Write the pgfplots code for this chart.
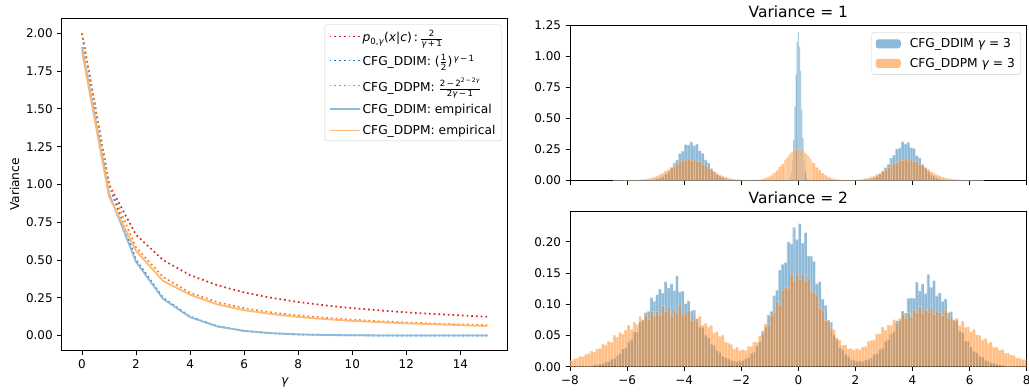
\documentclass[border=0pt]{standalone}
\usepackage{amsmath}
\usepackage{fontspec}
\setmainfont{DejaVu Sans}
\usepackage{pgfplots}
\pgfplotsset{compat=1.18}
\usepackage{pgfplotstable}
\definecolor{tblue}{HTML}{1F77B4}
\definecolor{torange}{HTML}{FF7F0E}
\definecolor{tred}{HTML}{D62728}
\definecolor{lblue}{HTML}{8FBBD9}
\definecolor{lorange}{HTML}{FFB878}
\newcommand{\si}[1]{\text{\itshape #1}}
\newcommand{\su}[1]{\text{#1}}
\newcommand{\up}[1]{\text{\raisebox{1bp}{#1}}}
\newcommand{\dn}[1]{\text{\raisebox{-1bp}{#1}}}

% Variance = 1 histogram (left bin edges; last row closes the last bin)
\pgfplotstableread{
x ddim ddpm
-6.5 0 0
-6.4 0 0
-6.3 0 0
-6.2 0 0
-6.1 0 .0004
-6.0 0 .0007
-5.9 0 .0012
-5.8 0 .0019
-5.7 0 .0031
-5.6 0 .0044
-5.5 0 .0070
-5.4 .0009 .0096
-5.3 .0018 .0145
-5.2 .0035 .0192
-5.1 .0066 .0275
-5.0 .0112 .0346
-4.9 .0199 .0473
-4.8 .0305 .0570
-4.7 .0490 .0741
-4.6 .0690 .0852
-4.5 .0960 .1057
-4.4 .1394 .1159
-4.3 .1619 .1371
-4.2 .2173 .1434
-4.1 .2349 .1618
-4.0 .2878 .1614
-3.9 .2845 .1737
-3.8 .3090 .1653
-3.7 .2786 .1696
-3.6 .2905 .1540
-3.5 .2398 .1508
-3.4 .2173 .1305
-3.3 .1636 .1218
-3.2 .1394 .1005
-3.1 .0960 .0896
-3.0 .0705 .0705
-2.9 .0466 .0599
-2.8 .0321 .0449
-2.7 .0190 .0364
-2.6 .0118 .0261
-2.5 .0063 .0202
-2.4 .0035 .0137
-2.3 .0018 .0101
-2.2 0 .0066
-2.1 0 .0046
-2.0 0 .0029
-1.9 0 .0019
-1.8 0 .0017
-1.7 0 .0011
-1.6 0 .0020
-1.5 0 .0038
-1.4 0 .0063
-1.3 0 .0113
-1.2 0 .0173
-1.1 0 .0283
-1.0 0 .0401
-0.9 0 .0604
-0.8 0 .0791
-0.7 0 .1101
-0.6 0 .1331
-0.50 0 .1600
-0.46 0 .1660
-0.42 .0003 .1850
-0.38 .002 .1890
-0.34 .007 .2080
-0.30 .025 .2100
-0.26 .065 .2270
-0.22 .166 .2260
-0.18 .322 .2420
-0.14 .592 .2390
-0.10 .851 .2510
-0.06 1.112 .2450
-0.02 1.19 .2530
0.02 1.075 .2470
0.06 .878 .2440
0.10 .566 .2460
0.14 .340 .2340
0.18 .155 .2350
0.22 .070 .2190
0.26 .023 .2170
0.30 .008 .2000
0.34 .002 .1950
0.38 .0003 .1790
0.42 0 .1720
0.46 0 .1550
0.5 0 .1390
0.6 0 .1050
0.7 0 .0825
0.8 0 .0578
0.9 0 .0419
1.0 0 .0270
1.1 0 .0182
1.2 0 .0107
1.3 0 .0067
1.4 0 .0036
1.5 0 .0021
1.6 0 .0010
1.7 0 .0018
1.8 0 .0020
1.9 0 .0031
2.0 0 .0044
2.1 0 .0070
2.2 .0019 .0096
2.3 .0034 .0145
2.4 .0067 .0191
2.5 .0112 .0276
2.6 .0200 .0345
2.7 .0303 .0474
2.8 .0494 .0567
2.9 .0726 .0745
3.0 .1030 .0848
3.1 .1275 .1062
3.2 .1789 .1152
3.3 .2026 .1378
3.4 .2520 .1427
3.5 .2604 .1626
3.6 .3109 .1605
3.7 .2940 .1746
3.8 .3050 .1644
3.9 .2631 .1705
4.0 .2569 .1532
4.1 .1985 .1515
4.2 .1806 .1298
4.3 .1288 .1224
4.4 .1030 .1000
4.5 .0726 .0900
4.6 .0466 .0701
4.7 .0321 .0602
4.8 .0188 .0447
4.9 .0118 .0366
5.0 .0063 .0260
5.1 .0036 .0203
5.2 .0017 .0137
5.3 .0009 .0102
5.4 0 .0066
5.5 0 .0046
5.6 0 .0029
5.7 0 .0020
5.8 0 .0012
5.9 0 .0007
6.0 0 .0004
6.1 0 0
6.2 0 0
6.3 0 0
6.4 0 0
6.5 0 0
}\varone

% Variance = 2 histogram
\pgfplotstableread{
x ddim ddpm
-8.0 .0001 .0103
-7.9 .0002 .0126
-7.8 .0003 .0132
-7.7 .0004 .0166
-7.6 .0005 .0160
-7.5 .0008 .0197
-7.4 .0011 .0208
-7.3 .0015 .0248
-7.2 .0021 .0233
-7.1 .0028 .0287
-7.0 .0039 .0292
-6.9 .0048 .0362
-6.8 .0072 .0348
-6.7 .0082 .0405
-6.6 .0116 .0394
-6.5 .0130 .0505
-6.4 .0177 .0472
-6.3 .0211 .0551
-6.2 .0281 .0520
-6.1 .0298 .0585
-6.0 .0390 .0666
-5.9 .0430 .0597
-5.8 .0553 .0714
-5.7 .0553 .0675
-5.6 .0712 .0806
-5.5 .0748 .0751
-5.4 .0865 .0823
-5.3 .0885 .0757
-5.2 .1104 .0892
-5.1 .1044 .0818
-5.0 .1153 .0885
-4.9 .1245 .0827
-4.8 .1178 .0979
-4.7 .1360 .0887
-4.6 .1259 .0954
-4.5 .1324 .0810
-4.4 .1219 .0923
-4.3 .1453 .0863
-4.2 .1197 .0986
-4.1 .1211 .0825
-4.0 .1011 .0861
-3.9 .1054 .0901
-3.8 .0895 .0749
-3.7 .0907 .0831
-3.6 .0771 .0735
-3.5 .0637 .0806
-3.4 .0631 .0667
-3.3 .0501 .0694
-3.2 .0456 .0636
-3.1 .0356 .0660
-3.0 .0340 .0544
-2.9 .0257 .0562
-2.8 .0226 .0485
-2.7 .0164 .0511
-2.6 .0144 .0399
-2.5 .0127 .0380
-2.4 .0097 .0357
-2.3 .0090 .0282
-2.2 .0079 .0313
-2.1 .0096 .0259
-2.0 .0098 .0278
-1.9 .0126 .0263
-1.8 .0148 .0327
-1.7 .0210 .0327
-1.6 .0238 .0392
-1.5 .0332 .0391
-1.4 .0399 .0499
-1.3 .0569 .0533
-1.2 .0637 .0682
-1.1 .0827 .0666
-1.0 .0885 .0822
-0.9 .1138 .0866
-0.8 .1223 .1050
-0.7 .1544 .0991
-0.6 .1637 .1229
-0.5 .1666 .1268
-0.4 .1997 .1248
-0.3 .1966 .1496
-0.2 .2230 .1369
-0.1 .2032 .1488
0.0 .2290 .1402
0.1 .1976 .1483
0.2 .2145 .1371
0.3 .1771 .1408
0.4 .1772 .1192
0.5 .1685 .1193
0.6 .1328 .1152
0.7 .1363 .0942
0.8 .1083 .0911
0.9 .0980 .0743
1.0 .0749 .0736
1.1 .0715 .0608
1.2 .0511 .0593
1.3 .0428 .0465
1.4 .0306 .0424
1.5 .0271 .0344
1.6 .0196 .0350
1.7 .0167 .0291
1.8 .0114 .0291
1.9 .0102 .0267
2.0 .0084 .0294
2.1 .0091 .0273
2.2 .0080 .0316
2.3 .0106 .0326
2.4 .0119 .0407
2.5 .0137 .0420
2.6 .0195 .0428
2.7 .0209 .0525
2.8 .0272 .0529
2.9 .0293 .0632
3.0 .0401 .0586
3.1 .0434 .0668
3.2 .0527 .0660
3.3 .0559 .0753
3.4 .0739 .0695
3.5 .0732 .0774
3.6 .0890 .0846
3.7 .0857 .0781
3.8 .1094 .0867
3.9 .1098 .0792
4.0 .1095 .0911
4.1 .1354 .0871
4.2 .1215 .0961
4.3 .1321 .0851
4.4 .1168 .0918
4.5 .1476 .0873
4.6 .1270 .0950
4.7 .1378 .0837
4.8 .1136 .0906
4.9 .1176 .0868
5.0 .1044 .0818
5.1 .1084 .0909
5.2 .0867 .0773
5.3 .0882 .0807
5.4 .0748 .0751
5.5 .0739 .0776
5.6 .0565 .0660
5.7 .0543 .0728
5.8 .0408 .0630
5.9 .0405 .0642
6.0 .0314 .0556
6.1 .0244 .0597
6.2 .0226 .0515
6.3 .0167 .0502
6.4 .0153 .0428
6.5 .0101 .0449
6.6 .0088 .0381
6.7 .0062 .0399
6.8 .0054 .0318
6.9 .0036 .0313
7.0 .0029 .0270
7.1 .0019 .0276
7.2 .0016 .0216
7.3 .0011 .0221
7.4 .0008 .0187
7.5 .0005 .0182
7.6 .0004 .0143
7.7 .0003 .0140
7.8 .0002 .0116
7.9 .0001 .0113
8.0 0 0
}\vartwo

\pgfplotsset{
  mpl/.style={
    scale only axis,
    axis line style={black, line width=0.8bp},
    tick align=outside,
    tick pos=left,
    major tick length=4.5bp,
    every tick/.style={black, line width=0.8bp},
    ticklabel style={font=\fontsize{12}{14}\selectfont},
    /pgf/number format/assume math mode=true,
    xticklabel style={yshift=-1bp},
    yticklabel style={xshift=-1bp},
    label style={font=\fontsize{12.3}{14}\selectfont},
    title style={font=\fontsize{15.5}{18}\selectfont, yshift=-2bp},
    legend cell align=left,
  },
  fixed2/.style={yticklabel style={/pgf/number format/.cd, fixed, fixed zerofill, precision=2}},
  mpllegend/.style={
    draw=black!20, rounded corners=2.5bp, fill=white, fill opacity=0.8, text opacity=1,
    font=\fontsize{12.3}{14}\selectfont, inner xsep=4bp, inner ysep=3bp},
  histbar/.style={ybar interval, fill=#1, fill opacity=0.5, draw=white, draw opacity=0.25, line width=0.3bp},
}

\begin{document}
\begin{tikzpicture}
\useasboundingbox (0,0) rectangle (1029bp,392bp);

% ---------------- left: variance vs gamma ----------------
\begin{axis}[mpl, fixed2,
  at={(61.7bp,41.3bp)}, anchor=south west,
  width=446bp, height=332.5bp,
  xmin=-0.75, xmax=15.75, ymin=-0.1, ymax=2.1,
  xtick={0,2,4,6,8,10,12,14},
  ytick={0,0.25,0.5,0.75,1,1.25,1.5,1.75,2},
  xlabel={\itshape γ}, ylabel={Variance},
  xlabel style={yshift=-2bp},
  legend image code/.code={\draw[#1] (0bp,0bp) -- (22bp,0bp); \path (0bp,0bp) -- (30bp,0bp);},
  legend style={at={(0.9865,0.981)}, anchor=north east, mpllegend, row sep=6.5bp},
]
\addplot[tred, line width=1.7bp, dash pattern=on 1.7bp off 3bp] coordinates {
(0,2)(1,1)(2,0.6667)(3,0.5)(4,0.4)(5,0.3333)(6,0.2857)(7,0.25)(8,0.2222)(9,0.2)(10,0.1818)(11,0.1667)(12,0.1538)(13,0.1429)(14,0.1333)(15,0.125)};
\addlegendentry{\si{p}$_{\su{0,}\si{γ}}$(\si{x}|\si{c})\,:\,$\frac{\up{2}}{\dn{\itshape γ\upshape\,+\,1}}$}
\addplot[tblue, line width=1.7bp, dash pattern=on 1.7bp off 3bp] coordinates {
(0,2)(1,1)(2,0.5)(3,0.25)(4,0.125)(5,0.0625)(6,0.03125)(7,0.015625)(8,0.0078)(9,0.0039)(10,0.002)(11,0.001)(12,0.0005)(13,0.0002)(14,0.0001)(15,0.0001)};
\addlegendentry{CFG\_DDIM: ($\frac{\up{1}}{\dn{2}}$)\kern1.2bp$^{\si{γ}\su{\,−\,1}}$}
\addplot[torange, line width=1.7bp, dash pattern=on 1.7bp off 3bp] coordinates {
(0,2)(1,1)(2,0.5833)(3,0.3875)(4,0.2835)(5,0.2218)(6,0.1817)(7,0.1538)(8,0.1333)(9,0.1176)(10,0.1053)(11,0.0952)(12,0.0870)(13,0.0800)(14,0.0741)(15,0.0690)};
\addlegendentry{CFG\_DDPM: $\frac{\up{2\,−\,2}^{\su{2\,−\,2}\si{γ}}}{\dn{2\itshape γ\upshape\,−\,1}}$}
\addplot[lblue, line width=1.8bp] coordinates {
(0,1.91)(1,0.94)(2,0.488)(3,0.243)(4,0.122)(5,0.061)(6,0.031)(7,0.016)(8,0.008)(9,0.004)(10,0.002)(11,0.001)(12,0.0005)(13,0.0003)(14,0.0002)(15,0.0001)};
\addlegendentry{CFG\_DDIM: empirical}
\addplot[lorange, line width=1.8bp] coordinates {
(0,1.88)(1,0.92)(2,0.56)(3,0.362)(4,0.27)(5,0.207)(6,0.168)(7,0.143)(8,0.123)(9,0.109)(10,0.097)(11,0.089)(12,0.081)(13,0.075)(14,0.069)(15,0.063)};
\addlegendentry{CFG\_DDPM: empirical}
\end{axis}

% ---------------- right top: variance = 1 ----------------
\begin{axis}[mpl, fixed2,
  at={(570bp,211.7bp)}, anchor=south west,
  width=456.7bp, height=155.3bp,
  xmin=-8, xmax=8, ymin=0, ymax=1.25,
  xtick={-8,-6,-4,-2,0,2,4,6,8}, xticklabels={},
  ytick={0,0.25,0.5,0.75,1,1.25},
  title={Variance = 1},
  legend image code/.code={\fill[#1] (0bp,-4.5bp) rectangle (25bp,4.5bp); \path (0bp,0bp) -- (32bp,0bp);},
  legend style={at={(0.9875,0.953)}, anchor=north east, mpllegend, inner ysep=4bp, row sep=5bp},
]
\addplot[histbar=tblue, forget plot] table[x=x, y=ddim] {\varone};
\addplot[histbar=torange, forget plot] table[x=x, y=ddpm] {\varone};
\addlegendimage{fill=tblue, fill opacity=0.5, draw=none}
\addlegendentry{CFG\_DDIM {\itshape γ} = 3}
\addlegendimage{fill=torange, fill opacity=0.5, draw=none}
\addlegendentry{CFG\_DDPM {\itshape γ} = 3}
\end{axis}

% ---------------- right bottom: variance = 2 ----------------
\begin{axis}[mpl, fixed2,
  at={(570bp,25.3bp)}, anchor=south west,
  width=456.7bp, height=155bp,
  xmin=-8, xmax=8, ymin=0, ymax=0.248,
  xtick={-8,-6,-4,-2,0,2,4,6,8},
  xticklabels={−8,−6,−4,−2,0,2,4,6,8},
  ytick={0,0.05,0.1,0.15,0.2},
  title={Variance = 2},
]
\addplot[histbar=tblue] table[x=x, y=ddim] {\vartwo};
\addplot[histbar=torange] table[x=x, y=ddpm] {\vartwo};
\end{axis}
\end{tikzpicture}
\end{document}
